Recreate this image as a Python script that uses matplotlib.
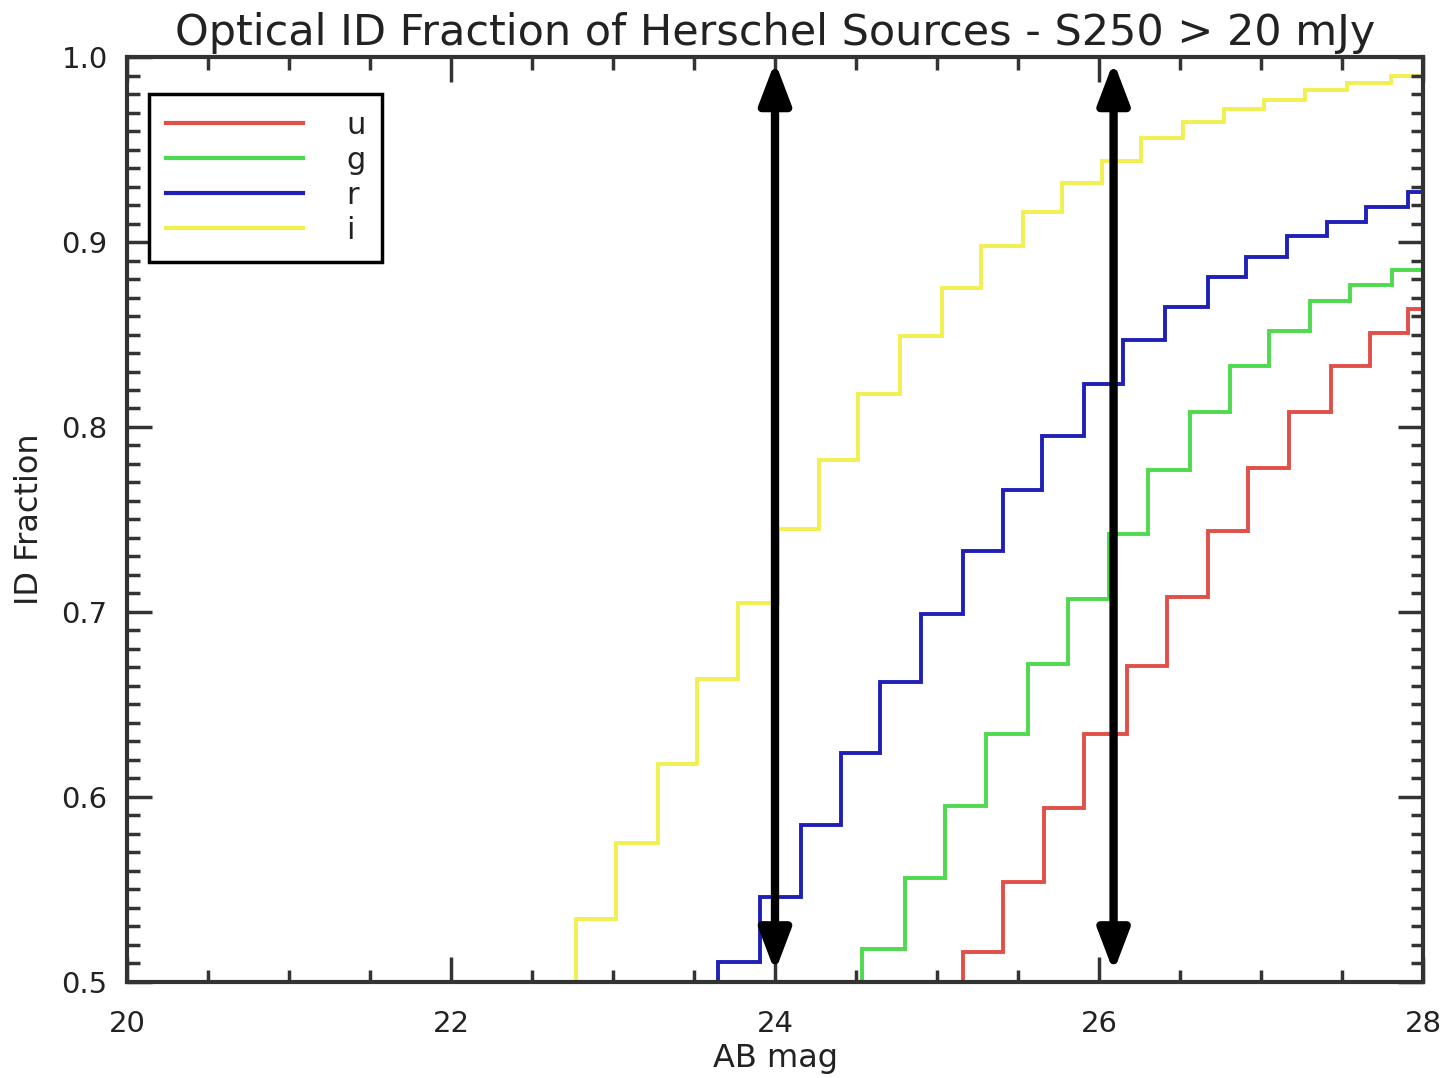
import numpy as np
import matplotlib
matplotlib.use("Agg")
import matplotlib.pyplot as plt
from matplotlib.ticker import MultipleLocator

# cumulative ID fraction per band (bin edges in AB mag)
u_edges = [25.16, 25.41, 25.66, 25.91, 26.17, 26.42, 26.67, 26.92, 27.17, 27.43, 27.67, 27.91, 28.0]
u_frac = [0.516, 0.554, 0.594, 0.634, 0.671, 0.708, 0.744, 0.778, 0.808, 0.833, 0.851, 0.864]

g_edges = [24.54, 24.80, 25.05, 25.30, 25.56, 25.81, 26.06, 26.30, 26.56, 26.81, 27.05, 27.30, 27.55, 27.81, 28.0]
g_frac = [0.518, 0.556, 0.595, 0.634, 0.672, 0.707, 0.742, 0.777, 0.808, 0.833, 0.852, 0.868, 0.877, 0.885]

r_edges = [23.65, 23.91, 24.16, 24.41, 24.65, 24.90, 25.16, 25.41, 25.65, 25.91, 26.15, 26.41, 26.67, 26.91,
           27.16, 27.41, 27.65, 27.91, 28.0]
r_frac = [0.511, 0.546, 0.585, 0.624, 0.662, 0.699, 0.733, 0.766, 0.795, 0.823, 0.847, 0.865, 0.881, 0.892,
          0.903, 0.911, 0.919, 0.927]

i_edges = [22.77, 23.02, 23.28, 23.52, 23.77, 24.02, 24.27, 24.51, 24.77, 25.03, 25.27, 25.53, 25.77, 26.02,
           26.26, 26.52, 26.77, 27.02, 27.27, 27.53, 27.80, 28.0]
i_frac = [0.534, 0.575, 0.618, 0.664, 0.705, 0.745, 0.782, 0.818, 0.849, 0.875, 0.898, 0.916, 0.932, 0.944,
          0.956, 0.965, 0.972, 0.977, 0.982, 0.986, 0.990]

bands = ["u", "g", "r", "i"]
colors = ["#e05048", "#4ed94e", "#2020b8", "#f2f050"]

# depth markers (arrows)
arrow_mags = [24.0, 26.09]

plt.rcParams['font.family'] = ['DejaVu Sans']
txt = "#222222"

fig = plt.figure(figsize=(14.55, 10.78), dpi=100)
ax = fig.add_axes([0.0873, 0.0891, 0.8907, 0.8580])

all_edges = [u_edges, g_edges, r_edges, i_edges]
all_frac = [u_frac, g_frac, r_frac, i_frac]
for b, c, e, f in zip(bands, colors, all_edges, all_frac):
    ax.stairs(f, e, baseline=0.0, color=c, lw=2.8, label=b)

for m in arrow_mags:
    ax.annotate("", xy=(m, 0.9975), xytext=(m, 0.5055),
                arrowprops=dict(arrowstyle="<|-|>,head_length=2.5,head_width=0.95",
                                color="black", lw=6, shrinkA=0, shrinkB=0),
                zorder=5)

ax.set_xlim(20, 28)
ax.set_ylim(0.5, 1.0)
ax.xaxis.set_major_locator(MultipleLocator(2))
ax.xaxis.set_minor_locator(MultipleLocator(0.5))
ax.yaxis.set_major_locator(MultipleLocator(0.1))
ax.yaxis.set_minor_locator(MultipleLocator(0.01))
ax.tick_params(which="both", direction="in", top=True, right=True, color="#333333",
               labelcolor=txt, labelsize=21)
ax.tick_params(which="major", length=18, width=2.5, pad=14)
ax.tick_params(which="minor", length=9, width=2.5)
ax.tick_params(axis="x", which="major", pad=20)
ax.set_xticks([20, 22, 24, 26, 28])
ax.set_xticklabels(["20", "22", "24", "26", "28"])
ax.set_yticks([0.5, 0.6, 0.7, 0.8, 0.9, 1.0])
ax.set_yticklabels(["0.5", "0.6", "0.7", "0.8", "0.9", "1.0"])
for s in ax.spines.values():
    s.set_linewidth(3)
    s.set_color("#333333")

ax.set_xlabel("AB mag", fontsize=23, color=txt, labelpad=4)
ax.set_ylabel("ID Fraction", fontsize=23, color=txt, labelpad=12)
ax.set_title("Optical ID Fraction of Herschel Sources - S250 > 20 mJy", fontsize=31,
             color=txt, pad=9)

leg = ax.legend(loc="upper left", bbox_to_anchor=(0.017, 0.96), fontsize=22,
                handlelength=4.5, handletextpad=1.4, labelspacing=0.2,
                borderpad=0.55, fancybox=False, framealpha=1, borderaxespad=0)
leg.get_frame().set_edgecolor("black")
leg.get_frame().set_linewidth(2.5)
for h in leg.get_lines():
    h.set_linewidth(3)
for t in leg.get_texts():
    t.set_color(txt)

fig.savefig("out.png", dpi=100)
